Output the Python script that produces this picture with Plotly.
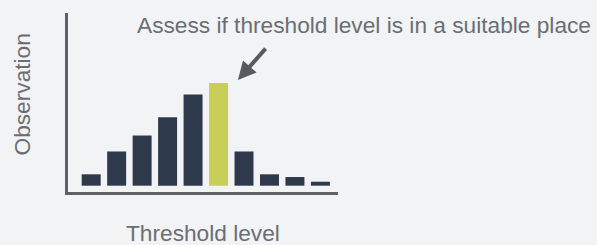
import plotly.graph_objects as go

categories = ["T1", "T2", "T3", "T4", "T5", "T6", "T7", "T8", "T9", "T10"]
observations = [5, 15, 22, 30, 40, 45, 15, 5, 3.8, 1.75]
highlight_index = 5
title_text = "Assess if threshold level is in a suitable place"
x_title = "Threshold level"
y_title = "Observation"

DARK = "#2e3a4b"
YELLOW = "#c8cf58"
BG = "#f2f3f5"
AXIS = "#5c6168"
TEXT = "#6a6e73"
FS = 22.7

colors = [YELLOW if i == highlight_index else DARK for i in range(len(categories))]
xs = list(range(len(categories)))

fig = go.Figure()
fig.add_trace(go.Bar(
    x=xs, y=observations,
    marker=dict(color=colors, line=dict(width=0)),
    hoverinfo="skip",
))

fig.update_layout(
    width=597, height=245,
    margin=dict(l=68, r=259, t=13, b=53),
    paper_bgcolor=BG, plot_bgcolor=BG,
    showlegend=False,
    bargap=0.255,
    font=dict(family="Liberation Sans, Arial, sans-serif", color=TEXT, size=FS),
)
fig.update_xaxes(
    range=[-0.91, 9.69], showgrid=False, zeroline=False, showticklabels=False,
    ticks="", showline=True, linecolor=AXIS, linewidth=3, fixedrange=True,
)
fig.update_yaxes(
    range=[-2.76, 75.7], showgrid=False, zeroline=False, showticklabels=False,
    ticks="", showline=True, linecolor=AXIS, linewidth=3, fixedrange=True,
)

# titles as annotations
fig.add_annotation(
    text=x_title, xref="paper", yref="paper", x=(202.5 - 68) / 270, y=(192 - 233) / 179,
    showarrow=False, xanchor="center", yanchor="middle",
    font=dict(size=FS, color=TEXT),
)
fig.add_annotation(
    text=y_title, xref="paper", yref="paper", x=(21.5 - 68) / 270, y=(192 - 95) / 179,
    showarrow=False, xanchor="center", yanchor="middle", textangle=-90,
    font=dict(size=FS, color=TEXT),
)
fig.add_annotation(
    text=title_text, xref="paper", yref="paper", x=(363.5 - 68) / 270, y=(192 - 24.5) / 179,
    showarrow=False, xanchor="center", yanchor="middle",
    font=dict(size=FS, color=TEXT),
)
# arrow pointing to highlighted bar
fig.add_annotation(
    x=highlight_index + 0.76, y=46.3, xref="x", yref="y",
    ax=29, ay=-33, text="", showarrow=True,
    arrowhead=2, arrowsize=0.9, arrowwidth=4, arrowcolor="#555b61",
)

fig.write_html(
    "out.html",
    config={"displayModeBar": False},
    post_script="document.body.style.margin='0';document.body.style.padding='0';"
                "document.body.style.background='" + BG + "';",
)
